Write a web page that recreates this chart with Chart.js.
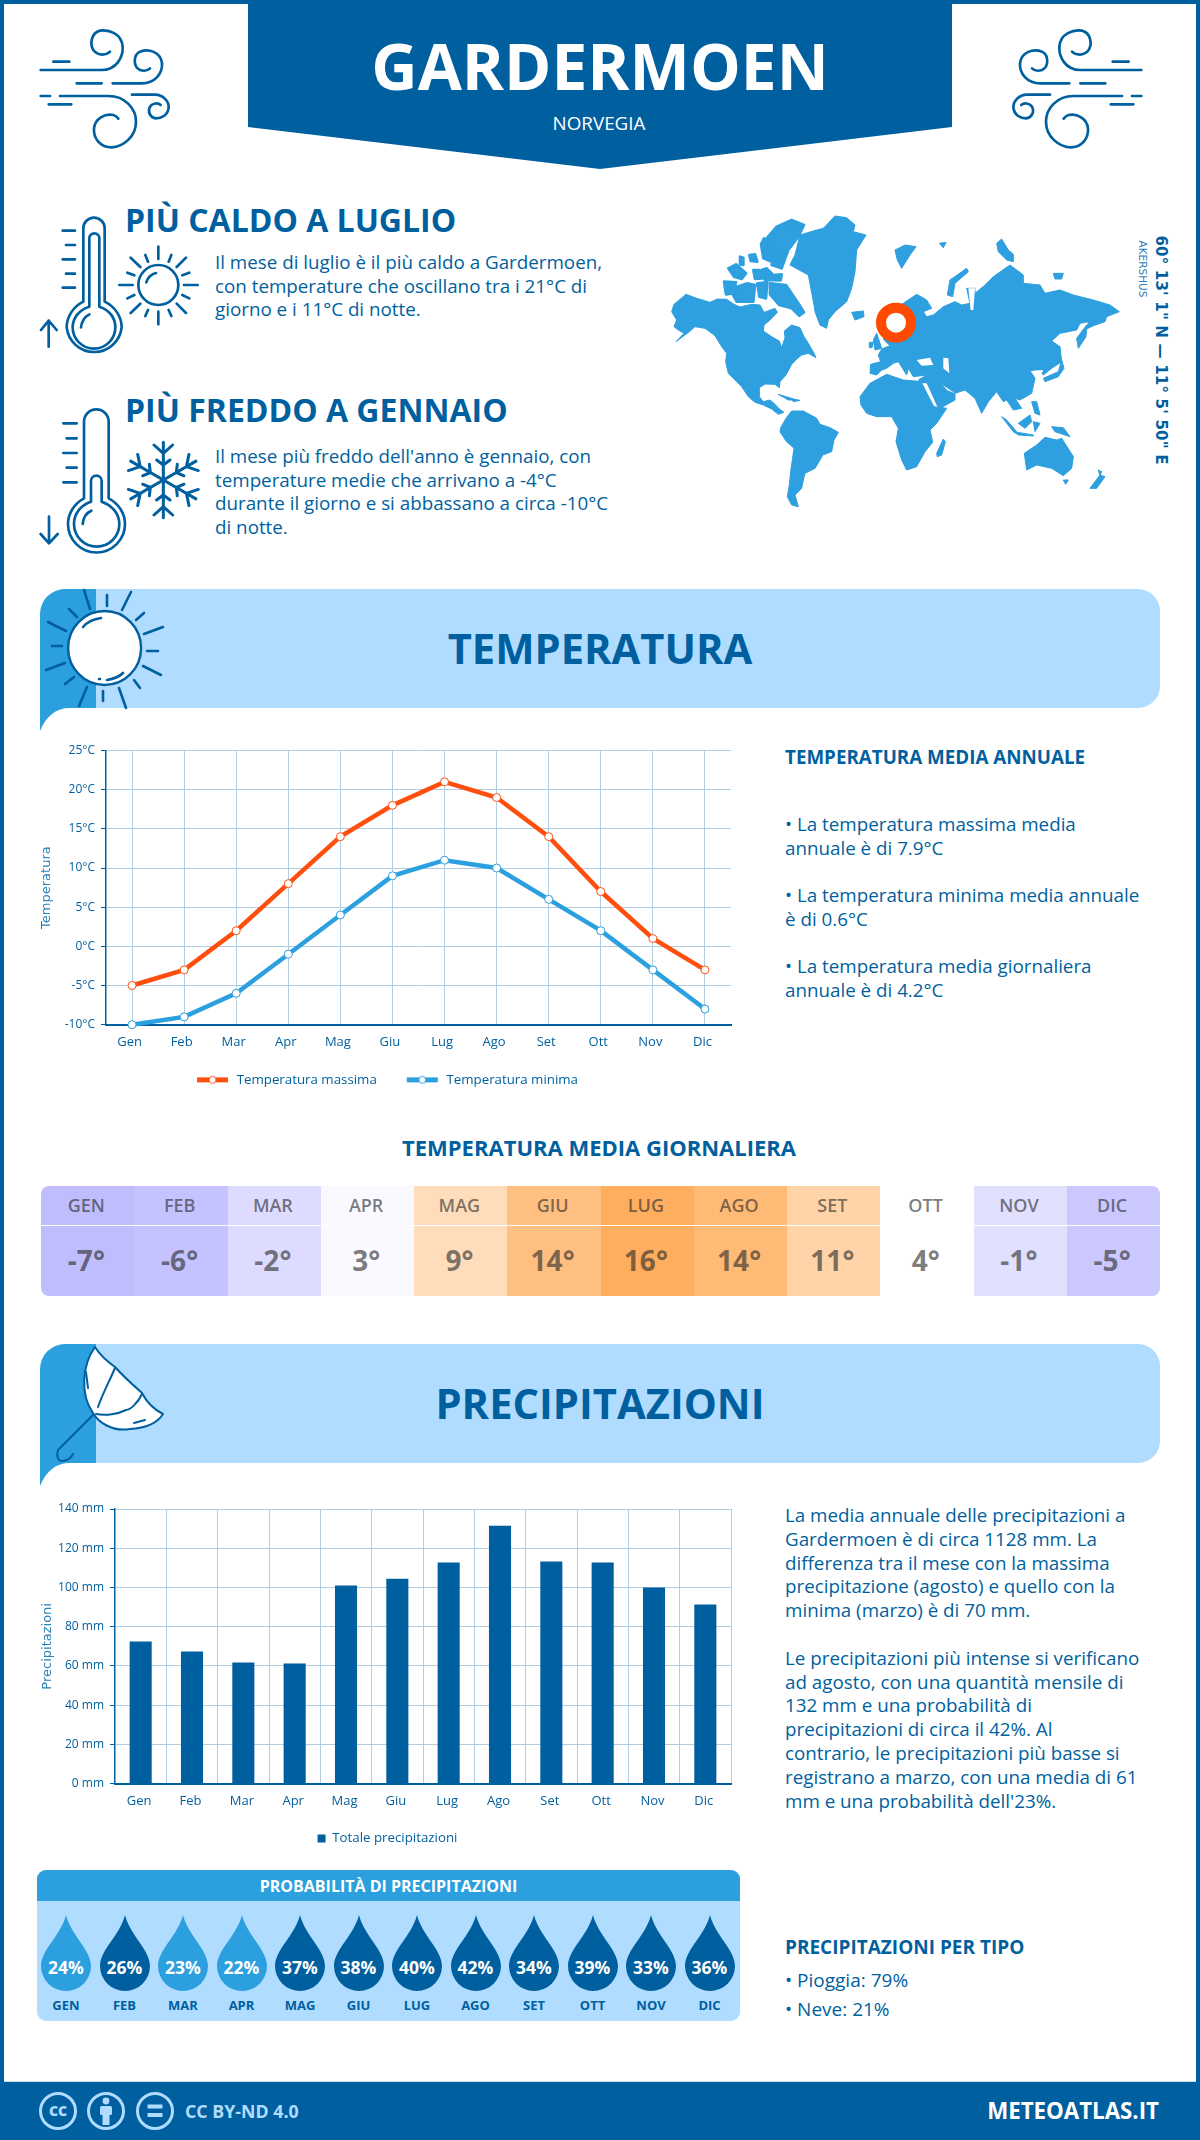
<!DOCTYPE html>
<html lang="it">
<head>
<meta charset="utf-8">
<title>Gardermoen</title>
<script src="https://cdn.jsdelivr.net/npm/chart.js@4"></script>
<style>
html,body{margin:0;padding:0;background:#fff}
#page{position:relative;width:1200px;height:2140px;overflow:hidden;font-family:"Open Sans",sans-serif;color:#005f9e;background:#fff}
#page>*{position:absolute}
.t{white-space:nowrap;margin:0}
.c{transform:translateX(-50%);text-align:center}
.body{font-size:18.8px;line-height:24px}
.h3{font-size:19px;font-weight:700;line-height:24px}
.h2{font-size:32px;font-weight:700;line-height:40px}
.sec{font-size:41.7px;font-weight:700;line-height:56px}
svg{overflow:visible}
.ic{fill:none;stroke:#005f9e;stroke-linecap:round;stroke-linejoin:round}
canvas{display:block}
</style>
</head>
<body>
<div id="page">
  <svg style="left:0;top:0" width="1200" height="2140" viewBox="0 0 1200 2140">
    <rect x="2" y="2" width="1196" height="2136" fill="none" stroke="#005f9e" stroke-width="4"/>
    <path d="M248 0H952V127L600 169L248 127Z" fill="#005f9e"/>
    <rect x="0" y="2082" width="1200" height="58" fill="#005f9e"/>
    <rect x="4" y="2081" width="1192" height="1" fill="#cfdbe4"/>
    <g id="head1">
      <path d="M96 589H1138A22 22 0 0 1 1160 611V686A22 22 0 0 1 1138 708H96Z" fill="#b0dcff"/>
      <path d="M40 731C46 716 56 708 70 708H96V589H65A25 25 0 0 0 40 614Z" fill="#2c9fdf"/>
    </g>
    <g transform="translate(0 755)">
      <path d="M96 589H1138A22 22 0 0 1 1160 611V686A22 22 0 0 1 1138 708H96Z" fill="#b0dcff"/>
      <path d="M40 731C46 716 56 708 70 708H96V589H65A25 25 0 0 0 40 614Z" fill="#2c9fdf"/>
    </g>
    <!-- header sun -->
    <g class="ic" stroke-width="2.6">
      <ellipse cx="104.6" cy="648" rx="36.5" ry="37" fill="#fff" stroke-width="2.4"/>
      <path d="M84 590L90 609M107 595V606M131 592L122 610M144 613L136 620M163 627L144 634M158 651H147M161 675L143 666M140 688L134 680M119 688L126 708M103 691V701M87 687L79 706M74 677L65 684M65 663L46 670M62 646H52M66 631L48 622M77 617L69 609"/>
      <path d="M83 627C88 621 94 619 101 618M107 680C113 679 119 677 123 673M99 679H100"/>
    </g>
    <!-- umbrella -->
    <g class="ic" stroke-width="2">
      <path d="M95 1347C82 1365 80 1395 93 1413C98 1422 112 1432 130 1429C148 1428 158 1422 163 1414C155 1410 148 1405 142 1393C133 1385 122 1375 115 1367C108 1362 100 1355 95 1347Z" fill="#fff"/>
      <path d="M93 1415L58 1450C56 1456 58 1461 62 1461C67 1461 71 1458 73 1454"/>
      <path d="M115 1368C110 1380 102 1395 98 1407M142 1394C138 1403 130 1410 126 1410C118 1414 106 1416 96 1414M86 1372L88 1388M134 1423L145 1420"/>
    </g>
    <!-- footer icons -->
    <g fill="none" stroke="#b0dcff" stroke-width="3">
      <circle cx="58" cy="2111" r="17.5"/><circle cx="106" cy="2111" r="17.5"/><circle cx="155" cy="2111" r="17.5"/>
    </g>
    <g fill="#b0dcff">
      <text x="58" y="2116" font-family="Open Sans" font-weight="800" font-size="14" text-anchor="middle">CC</text>
      <circle cx="106" cy="2101" r="3.4"/><rect x="100" y="2106" width="12" height="9" rx="1.5"/><rect x="102.5" y="2114" width="7" height="11"/>
      <rect x="147.5" y="2104.5" width="15" height="4"/><rect x="147.5" y="2113" width="15" height="4"/>
    </g>
  </svg>

  <!-- wind icons -->
  <svg style="left:30px;top:20px" width="150" height="140" viewBox="0 0 450 420">
    <g class="ic" stroke-width="8">
      <path d="M70 125H118M32 150H215C260 150 280 110 278 80C275 40 235 28 210 32C185 38 178 70 190 90C205 110 230 105 240 95"/>
      <path d="M140 190H215M248 190H335C375 190 398 160 396 130C392 95 355 85 330 95C310 105 308 140 330 150C345 155 355 150 360 145"/>
      <path d="M32 228H60M90 228H235C285 228 318 265 318 305C318 350 280 380 245 382C210 382 190 355 192 325C195 295 225 280 250 285C258 287 262 292 265 296"/>
      <path d="M56 253H124M306 224H375C400 224 417 245 416 262C414 285 395 295 378 295C360 293 352 275 360 260C368 248 385 248 392 255"/>
    </g>
  </svg>
  <svg style="left:1002px;top:20px;transform:scaleX(-1)" width="150" height="140" viewBox="0 0 450 420">
    <g class="ic" stroke-width="8">
      <path d="M70 125H118M32 150H215C260 150 280 110 278 80C275 40 235 28 210 32C185 38 178 70 190 90C205 110 230 105 240 95"/>
      <path d="M140 190H215M248 190H335C375 190 398 160 396 130C392 95 355 85 330 95C310 105 308 140 330 150C345 155 355 150 360 145"/>
      <path d="M32 228H60M90 228H235C285 228 318 265 318 305C318 350 280 380 245 382C210 382 190 355 192 325C195 295 225 280 250 285C258 287 262 292 265 296"/>
      <path d="M56 253H124M306 224H375C400 224 417 245 416 262C414 285 395 295 378 295C360 293 352 275 360 260C368 248 385 248 392 255"/>
    </g>
  </svg>

  <!-- hot thermometer + sun -->
  <svg style="left:30px;top:205px" width="180" height="160" viewBox="0 0 540 480">
    <g class="ic" stroke-width="8">
      <path d="M160 290V70A32 32 0 0 1 224 70V290C255 305 275 335 275 367A83 83 0 0 1 110 367C110 335 130 305 160 290Z"/>
      <path d="M178 305V100A15 15 0 0 1 208 100V305C240 315 256 340 256 367A64 64 0 0 1 128 367C128 340 146 315 178 305Z"/>
      <path d="M153 367C155 350 165 335 178 328M98 77H135M108 120H135M98 163H135M108 206H135M98 248H135M56 425V347M33 375L56 347L80 375"/>
      <circle cx="385" cy="240" r="60"/>
      <path d="M349 232C352 218 365 206 378 204M385 125V162M385 320V358M268 240H308M462 240H503M302 158L331 186M468 158L440 186M302 324L331 296M468 324L440 296M346 150L354 170M424 150L416 170M292 203L313 211M478 203L457 211M292 280L313 270M478 280L457 270M346 333L354 315M424 333L416 315"/>
    </g>
  </svg>
  <!-- cold thermometer + snowflake -->
  <svg style="left:30px;top:400px" width="180" height="160" viewBox="0 0 540 480">
    <g class="ic" stroke-width="8">
      <path d="M162 295V65A37 37 0 0 1 236 65V295C265 310 285 340 285 372A85 85 0 0 1 114 372C114 340 134 310 162 295Z"/>
      <path d="M183 305V243A16 16 0 0 1 215 243V305C245 315 268 340 268 372A68 68 0 0 1 132 372C132 340 153 315 183 305Z"/>
      <path d="M158 372C160 352 170 338 184 332M100 70H140M110 115H140M100 159H140M110 203H140M100 247H140M57 350V430M32 402L57 430L83 402"/>
      <g transform="translate(400 240)" stroke-width="9">
        <path id="arm" d="M0 0V-113M-28 -105L0 -80L28 -105M-20 -60L0 -45L20 -60"/>
        <use href="#arm" transform="rotate(60)"/><use href="#arm" transform="rotate(120)"/><use href="#arm" transform="rotate(180)"/><use href="#arm" transform="rotate(240)"/><use href="#arm" transform="rotate(300)"/>
      </g>
    </g>
  </svg>

  <!-- world map -->
  <svg style="left:660px;top:205px" width="480" height="310" viewBox="0 0 1440 930">
    <g fill="#2e9fdf" stroke="#2e9fdf" stroke-width="3" stroke-linejoin="round">
      <path d="M35 320L42 298L78 268L110 280L150 292L172 282L200 283L222 298L240 306L275 298L300 300L312 322L345 310L352 322L330 345L312 360L310 378L335 395L358 408L365 428L375 398L373 378L395 360L420 368L432 395L445 415L462 445L468 458L445 445L425 450L410 462L395 478L378 510L360 530L358 548L345 538L315 537L298 548L298 575L310 590L330 585L345 598L358 612L372 622L355 628L335 612L310 600L285 592L265 575L245 545L230 530L205 505L197 470L200 445L185 425L165 392L135 370L105 365L88 380L48 410L72 385L55 375L42 365L50 345Z"/>
      <path d="M362 668L378 640L395 618L430 618L470 640L480 658L510 668L535 682L522 705L515 740L488 750L480 765L465 790L435 805L430 825L425 850L405 870L415 905L395 900L382 875L388 840L392 800L402 730L378 708L360 680Z"/>
      <path d="M392 175L405 150L420 90L470 75L490 70L525 33L560 38L585 60L580 80L618 90L590 135L585 200L575 250L560 290L525 320L505 345L500 370L480 360L465 320L462 300L445 210L390 180Z"/>
      <g stroke-width="8">
        <path d="M320 100L350 65L395 45L432 60L415 95L385 135L365 190L335 180L345 140L330 115Z"/>
        <path d="M330 235L378 240L415 295L432 322L418 332L395 310L358 300L330 268Z"/>
        <path d="M192 230L228 232L218 265L198 268ZM222 248L262 235L285 240L280 290L255 290L230 290L218 268ZM205 190L228 178L258 205L245 222L222 215ZM280 195L298 195L308 220L285 222ZM303 118L312 100L330 115L345 150L335 170L310 160ZM305 195L320 190L340 210L365 208L362 226L315 225ZM268 150L285 148L292 170L272 168ZM240 155L250 158L250 180L240 178ZM292 235L322 232L318 280L298 275Z"/>
      </g>
      <path d="M630 505L632 478L662 470L655 450L665 432L690 422L672 405L668 385L700 310L730 295L770 268L800 285L815 310L790 320L800 335L820 330L850 305L885 290L905 300L930 295L920 250L945 250L945 265L975 240L1000 215L1050 180L1090 210L1090 235L1140 240L1155 265L1200 255L1240 270L1300 285L1350 300L1378 320L1340 335L1335 350L1300 362L1280 372L1285 350L1260 355L1250 375L1200 385L1175 408L1200 425L1205 470L1175 490L1150 510L1135 495L1110 497L1125 520L1115 565L1080 585L1065 580L1085 610L1060 615L1040 585L1030 590L1010 560L985 590L965 625L945 580L915 555L885 565L885 585L840 610L825 600L790 540L775 525L800 510L760 515L745 490L740 510L715 470L700 475L680 490L665 495L650 510Z"/>
      <path d="M600 575L630 535L680 508L730 525L790 530L800 560L825 605L860 610L830 655L810 675L818 712L795 740L770 785L740 795L725 765L708 710L715 670L695 635L650 635L620 625L603 600Z"/>
      <path d="M830 745L850 702L856 710L845 750L832 755Z"/>
      <path d="M1093 745L1130 720L1155 697L1190 705L1205 700L1240 755L1235 790L1210 812L1175 790L1130 780L1100 795Z"/>
      <path d="M1210 825L1225 825L1217 838ZM1290 850L1320 810L1335 815L1310 850ZM1315 795L1325 800L1320 812Z"/>
      <path d="M640 405L650 385L665 430L645 435ZM628 412L640 412L636 428L628 428Z"/>
      <path d="M575 322L610 318L612 335L585 345Z"/>
      <path d="M705 135L735 120L768 125L750 150L725 190L712 165ZM838 115L858 112L850 128Z"/>
      <path d="M862 270L870 225L920 190L925 200L885 235L878 275Z"/>
      <path d="M1010 115L1025 102L1045 135L1060 148L1060 170L1040 165L1015 140Z"/>
      <path d="M1180 205L1210 205L1205 222L1185 222Z"/>
      <path d="M1250 400L1280 360L1278 395L1255 430Z"/>
      <path d="M1150 520L1195 500L1205 465L1212 490L1195 515L1155 530Z"/>
      <path d="M1025 635L1040 645L1070 680L1060 680ZM1075 655L1110 630L1115 650L1095 670ZM1060 680L1120 690L1120 693L1075 690ZM1175 665L1210 668L1230 695L1185 680ZM1115 590L1130 590L1140 630L1125 625ZM1120 650L1140 655L1125 680Z"/>
      <path d="M355 568L410 585L385 585ZM395 582L420 586L400 590Z"/>
    </g>
    <g fill="#fff">
      <path d="M770 465L810 458L820 480L785 482Z"/>
      <path d="M850 458L865 460L868 505L850 490Z"/>
      <path d="M848 540L885 565L862 556Z"/>
      <path d="M787 535L800 535L832 605L822 603Z"/>
      <path d="M1120 497L1150 495L1140 515L1125 515Z"/>
      <path d="M925 250L945 250L940 315L932 315Z"/>
    </g>
    <circle cx="708" cy="353" r="45" fill="#fff" stroke="#ff4a00" stroke-width="30"/>
  </svg>

  <!-- text blocks -->
  <div class="t c" style="left:600px;top:22px;font-size:64px;font-weight:700;line-height:88px;color:#fff">GARDERMOEN</div>
  <div class="t c" style="left:599px;top:111px;font-size:18.8px;line-height:24px;color:#fff">NORVEGIA</div>

  <div class="t h2" style="left:125px;top:200px">PIÙ CALDO A LUGLIO</div>
  <div class="t" style="left:215px;top:251px;font-size:18.8px;line-height:23.5px">Il mese di luglio è il più caldo a Gardermoen,<br>con temperature che oscillano tra i 21°C di<br>giorno e i 11°C di notte.</div>
  <div class="t h2" style="left:125px;top:390px">PIÙ FREDDO A GENNAIO</div>
  <div class="t" style="left:215px;top:445px;font-size:18.8px;line-height:23.7px">Il mese più freddo dell'anno è gennaio, con<br>temperature medie che arrivano a -4°C<br>durante il giorno e si abbassano a circa -10°C<br>di notte.</div>

  <div class="t" style="left:1161px;top:350px;transform:translate(-50%,-50%) rotate(90deg);font-family:'DejaVu Sans';font-weight:700;font-size:15px;letter-spacing:.2px">60° 13' 1" N — 11° 5' 50" E</div>
  <div class="t" style="left:1143px;top:269px;transform:translate(-50%,-50%) rotate(90deg);font-family:'DejaVu Sans';font-size:10.5px;color:#2a7db5">AKERSHUS</div>

  <div class="t sec c" style="left:600px;top:620px">TEMPERATURA</div>
  <div class="t h3" style="left:785px;top:745px;font-size:18.8px">TEMPERATURA MEDIA ANNUALE</div>
  <div class="t body" style="left:785px;top:812px">• La temperatura massima media<br>annuale è di 7.9°C<br><span style="display:block;height:23px"></span>• La temperatura minima media annuale<br>è di 0.6°C<br><span style="display:block;height:23px"></span>• La temperatura media giornaliera<br>annuale è di 4.2°C</div>

  <div class="t c" style="left:599px;top:1132px;font-size:22px;font-weight:700;line-height:30px">TEMPERATURA MEDIA GIORNALIERA</div>
  <div id="daily" style="left:41px;top:1186px;width:1119px;height:110px;display:flex;border-radius:8px;overflow:hidden"></div>

  <div class="t sec c" style="left:600px;top:1375px">PRECIPITAZIONI</div>
  <div class="t body" style="left:785px;top:1504px;line-height:23.8px">La media annuale delle precipitazioni a<br>Gardermoen è di circa 1128 mm. La<br>differenza tra il mese con la massima<br>precipitazione (agosto) e quello con la<br>minima (marzo) è di 70 mm.<br><br>Le precipitazioni più intense si verificano<br>ad agosto, con una quantità mensile di<br>132 mm e una probabilità di<br>precipitazioni di circa il 42%. Al<br>contrario, le precipitazioni più basse si<br>registrano a marzo, con una media di 61<br>mm e una probabilità dell'23%.</div>

  <canvas id="tempChart" width="740" height="370" style="left:20px;top:730px"></canvas>
  <canvas id="rainChart" width="730" height="371" style="left:30px;top:1489px"></canvas>

  <div id="prob" style="left:37px;top:1870px;width:703px;height:151px;background:#b0dcff;border-radius:9px;overflow:hidden">
    <div class="t" style="height:31px;line-height:33px;background:#2c9fdf;color:#fff;font-weight:700;font-size:16px;text-align:center">PROBABILITÀ DI PRECIPITAZIONI</div>
  </div>

  <div class="t h3" style="left:785px;top:1935px">PRECIPITAZIONI PER TIPO</div>
  <div class="t" style="left:785px;top:1966px;font-size:19px;line-height:28.5px">• Pioggia: 79%<br>• Neve: 21%</div>

  <div class="t" style="left:185px;top:2098px;font-size:17.8px;font-weight:700;line-height:26px;color:#b0dcff">CC BY-ND 4.0</div>
  <div class="t" style="right:41px;top:2094px;font-size:22.3px;font-weight:700;line-height:34px;color:#fff">METEOATLAS.IT</div>
</div>

<script>
const MONTHS = ['Gen','Feb','Mar','Apr','Mag','Giu','Lug','Ago','Set','Ott','Nov','Dic'];
const MONTHS_UP = ['GEN','FEB','MAR','APR','MAG','GIU','LUG','AGO','SET','OTT','NOV','DIC'];
const TEMP_MAX = [-5,-3,2,8,14,18,21,19,14,7,1,-3];
const TEMP_MIN = [-10,-9,-6,-1,4,9,11,10,6,2,-3,-8];
const PRECIP = [72.5,67.4,61.8,61.3,101,104.5,112.7,131.5,113.2,112.7,100,91.3];
const DAILY = [-7,-6,-2,3,9,14,16,14,11,4,-1,-5];
const DAILY_COLORS = ['#c0bdff','#c4c2ff','#dddbff','#f9f9ff','#ffdcba','#ffbf80','#ffae5f','#ffba75','#ffd4a8','#ffffff','#e2e0ff','#cac8ff'];
const PROB = [24,26,23,22,37,38,40,42,34,39,33,36];

const BLUE='#005f9e', SKY='#2c9fdf', ORANGE='#ff4f0f', GRID='#b0cde2';

// daily table
const daily=document.getElementById('daily');
DAILY.forEach((v,i)=>{
  const col=document.createElement('div');
  col.style.cssText='flex:1;box-sizing:border-box;background:'+DAILY_COLORS[i]+';color:rgba(40,40,40,.62);text-align:center';
  col.innerHTML='<div style="height:39px;line-height:38px;padding-right:2.5px;font-size:18px;font-weight:600;border-bottom:1.5px solid #fff">'+MONTHS_UP[i]+'</div>'+
    '<div style="line-height:69px;padding-right:2.5px;font-size:28px;font-weight:700">'+v+'°</div>';
  daily.appendChild(col);
});

// drops
const prob=document.getElementById('prob');
PROB.forEach((v,i)=>{
  const cx=29+i*58.5;
  const d=document.createElement('div');
  d.style.cssText='position:absolute;left:'+(cx-25)+'px;top:45px;width:50px;text-align:center';
  d.innerHTML='<svg width="50" height="76" viewBox="0 0 50 76" style="display:block"><path d="M25 0C30 20 50 35 50 51A25 25 0 0 1 0 51C0 35 20 20 25 0Z" fill="'+(v>=26?BLUE:SKY)+'"/></svg>'+
    '<div style="position:absolute;left:-5px;right:-5px;top:37px;line-height:30px;color:#fff;font-weight:700;font-size:17.5px">'+v+'%</div>'+
    '<div style="position:absolute;left:-5px;right:-5px;top:80px;line-height:20px;color:#005f9e;font-weight:700;font-size:13px">'+MONTHS_UP[i]+'</div>';
  prob.appendChild(d);
});

// legend marker: line with a small circle; blank space on the left opens the gap between entries
function legendMark(color){
  const c=document.createElement('canvas');c.width=53;c.height=11;
  const x=c.getContext('2d');
  x.fillStyle=color;x.fillRect(20,3,31,5);
  x.beginPath();x.arc(35.5,5.5,3.5,0,Math.PI*2);x.fillStyle='#fff';x.fill();
  x.lineWidth=1;x.strokeStyle=color;x.stroke();
  return c;
}

const FONT='"Open Sans", sans-serif';
const yTitle=(text,top)=>({display:true,text,color:'#2a80b9',font:{family:'"DejaVu Sans"',size:13,lineHeight:1.2},padding:{top,bottom:0}});

new Chart(document.getElementById('tempChart'),{
  type:'line',
  data:{labels:MONTHS,datasets:[
    {label:'Temperatura massima',data:TEMP_MAX,borderColor:ORANGE,backgroundColor:'#fff',borderWidth:4.5,pointRadius:4,pointBorderWidth:1,pointBorderColor:ORANGE,pointBackgroundColor:'#fff',tension:0,clip:false,pointStyle:'circle'},
    {label:'Temperatura minima',data:TEMP_MIN,borderColor:SKY,backgroundColor:'#fff',borderWidth:4.5,pointRadius:4,pointBorderWidth:1,pointBorderColor:SKY,pointBackgroundColor:'#fff',tension:0,clip:false,pointStyle:'circle'}
  ]},
  options:{
    responsive:false,animation:false,devicePixelRatio:1,
    layout:{padding:{left:4,right:29,top:20.5,bottom:3.5}},
    plugins:{tooltip:{enabled:false},
      legend:{position:'bottom',labels:{
        color:BLUE,font:{family:FONT,size:13.3},padding:10,usePointStyle:true,pointStyleWidth:53,
        generateLabels:(ch)=>ch.data.datasets.map((d,i)=>({text:d.label,datasetIndex:i,fontColor:BLUE,lineWidth:0,pointStyle:legendMark(d.borderColor)}))
      }}},
    scales:{
      x:{offset:true,grid:{offset:false,color:GRID,lineWidth:1,drawTicks:false},border:{color:BLUE,width:2},
        ticks:{color:BLUE,font:{family:FONT,size:13},padding:10,labelOffset:-2.5,maxRotation:0},
        afterFit:s=>{s.height=38.5}},
      y:{min:-10,max:25,grid:{color:GRID,lineWidth:1,tickColor:BLUE,tickLength:5},border:{color:BLUE,width:1.5},
        ticks:{stepSize:5,color:BLUE,font:{family:FONT,size:12},padding:6,callback:v=>v+'°C'},
        title:yTitle('Temperatura',14.5),
        afterFit:s=>{s.width=82}}
    }
  }
});

new Chart(document.getElementById('rainChart'),{
  type:'bar',
  data:{labels:MONTHS,datasets:[{label:'Totale precipitazioni',data:PRECIP,backgroundColor:BLUE,borderWidth:0,categoryPercentage:1,barPercentage:.43}]},
  options:{
    responsive:false,animation:false,devicePixelRatio:1,
    layout:{padding:{left:14,right:29,top:20,bottom:4.8}},
    plugins:{tooltip:{enabled:false},
      legend:{position:'bottom',labels:{color:BLUE,font:{family:FONT,size:13.3},padding:10,boxWidth:8,boxHeight:8}}},
    scales:{
      x:{offset:true,grid:{offset:true,color:c=>c.index===12?'rgba(0,0,0,0)':GRID,lineWidth:1,drawTicks:false},border:{color:BLUE,width:2},
        ticks:{color:BLUE,font:{family:FONT,size:13},padding:10,labelOffset:-1.5,maxRotation:0},
        afterFit:s=>{s.height=38.2}},
      y:{min:0,max:140,grid:{color:GRID,lineWidth:1,tickColor:BLUE,tickLength:5},border:{color:BLUE,width:1.5},
        ticks:{stepSize:20,color:BLUE,font:{family:FONT,size:12},padding:6,callback:v=>v+' mm'},
        title:yTitle('Precipitazioni',-4.5),
        afterFit:s=>{s.width=71}}
    }
  }
});
</script>
</body>
</html>
